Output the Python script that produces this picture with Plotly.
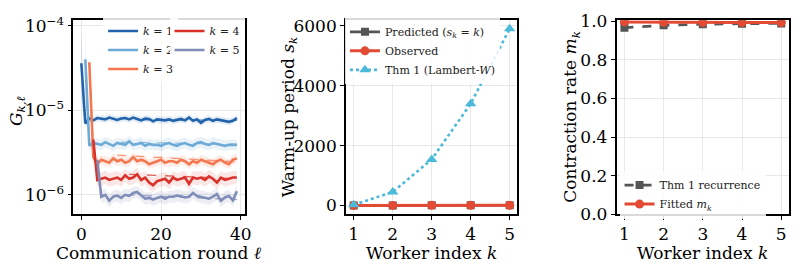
import plotly.graph_objects as go

# ---------------- data ----------------
rounds = list(range(40))
SCALE = 1e-6  # G values below are in units of 1e-6

G_k1 = [36, 7.0, 8.0, 7.6, 8.1, 8.0, 7.8, 8.2, 7.9, 7.7, 8.0, 8.1, 7.8, 8.2, 7.9, 7.6, 8.0, 7.9, 7.4, 7.8,
        7.7, 7.6, 7.8, 7.5, 7.7, 7.9, 7.6, 8.2, 7.5, 7.8, 7.1, 7.7, 7.9, 7.5, 7.8, 7.6, 7.4, 7.3, 7.5, 8.1]
G_k2 = [None, 40, 3.8, 4.1, 4.0, 3.9, 4.2, 4.0, 3.8, 4.1, 4.0, 3.9, 4.3, 3.9, 4.0, 4.1, 3.8, 4.0, 3.9, 3.9,
        3.8, 4.0, 4.1, 3.9, 3.8, 4.0, 4.1, 3.9, 3.8, 4.1, 4.2, 4.0, 3.9, 4.1, 4.0, 3.9, 3.8, 3.9, 3.9, 3.9]
G_k3 = [None, None, 37, 2.8, 2.3, 2.6, 2.5, 2.4, 2.7, 2.5, 2.6, 2.4, 2.5, 2.8, 2.5, 2.6, 2.5, 2.3, 2.4, 2.5,
        2.6, 2.4, 2.5, 2.5, 2.4, 2.6, 2.5, 2.3, 2.5, 2.4, 2.6, 2.5, 2.4, 2.3, 2.5, 2.6, 2.4, 2.3, 2.6, 2.7]
G_k4 = [None, None, None, 4.5, 1.5, 1.55, 1.6, 1.5, 1.55, 1.6, 1.5, 1.7, 1.55, 1.6, 1.75, 1.5, 1.6, 1.4, 1.3, 1.45,
        1.5, 1.55, 1.4, 1.6, 1.5, 1.55, 1.6, 1.35, 1.6, 1.55, 1.6, 1.5, 1.65, 1.55, 1.4, 1.6, 1.5, 1.55, 1.6, 1.6]
G_k5 = [None, None, None, None, 2.6, 0.95, 1.0, 0.85, 0.95, 0.98, 0.92, 1.0, 0.97, 1.05, 1.08, 0.98, 0.9, 0.92, 0.88, 0.92,
        0.95, 0.9, 0.95, 0.95, 0.98, 0.96, 0.93, 0.95, 1.05, 0.97, 0.95, 0.93, 0.9, 0.95, 1.02, 0.85, 0.93, 0.97, 0.86, 1.1]
band_spread = [0.10, 0.16, 0.14, 0.20, 0.18]   # relative spread of shaded band
first_spread = [1.5, 1.3, 0.1, 0.3, 0.2]        # spread at the first (warm-up) point
fit_x_start = [15, 10, 9, 12, 11]
fit_x_end = [39, 39, 39, 39, 39]
fit_y_start = [7.7, 4.2, 2.95, 1.75, 1.0]
fit_y_end = [7.6, 3.95, 2.45, 1.55, 0.88]
k_labels = ["<i>k</i> = 1", "<i>k</i> = 2", "<i>k</i> = 3", "<i>k</i> = 4", "<i>k</i> = 5"]

workers = [1, 2, 3, 4, 5]
s_predicted = [1, 2, 3, 4, 5]
s_observed = [1, 2, 3, 4, 5]
s_thm1 = [20, 450, 1540, 3400, 5906]

m_thm1 = [0.966, 0.978, 0.984, 0.987, 0.988]
m_fitted = [0.996, 0.994, 0.993, 0.993, 0.993]
m_fitted_err = [0.004, 0.004, 0.004, 0.004, 0.004]

# ---------------- style ----------------
FONT = "DejaVu Serif"
k_colors = ["#2264ab", "#6eaad6", "#f4774f", "#d8322a", "#7f8db8"]
k_fill = ["rgba(34,100,171,0.12)", "rgba(110,170,214,0.15)", "rgba(244,119,79,0.15)",
          "rgba(216,50,42,0.12)", "rgba(127,141,184,0.15)"]
GREY = "#555555"
RED = "#e24a33"
CYAN = "#4bb9d9"
W, H = 803, 267
TICK_SIZE = 17


def px_x(p):
    return p / W


def px_y(p):
    return (H - p) / H


fig = go.Figure()

series = [G_k1, G_k2, G_k3, G_k4, G_k5]
for i, ser in enumerate(series):
    xs = [x for x, v in zip(rounds, ser) if v is not None]
    vs = [v * SCALE for v in ser if v is not None]
    spreads = [first_spread[i]] + [band_spread[i]] * (len(vs) - 1)
    hi = [v * (1 + s) for v, s in zip(vs, spreads)]
    lo = [v / (1 + s) for v, s in zip(vs, spreads)]
    fig.add_trace(go.Scatter(x=xs, y=lo, mode="lines", line=dict(width=0), showlegend=False,
                             hoverinfo="skip", xaxis="x", yaxis="y"))
    fig.add_trace(go.Scatter(x=xs, y=hi, mode="lines", line=dict(width=0), fill="tonexty",
                             fillcolor=k_fill[i], showlegend=False, hoverinfo="skip",
                             xaxis="x", yaxis="y"))
for i in range(5):
    fig.add_trace(go.Scatter(x=[fit_x_start[i], fit_x_end[i]],
                             y=[fit_y_start[i] * SCALE, fit_y_end[i] * SCALE],
                             mode="lines", line=dict(color=k_colors[i], width=1.3, dash="dash"),
                             opacity=0.75, showlegend=False, xaxis="x", yaxis="y"))
for i, ser in enumerate(series):
    xs = [x for x, v in zip(rounds, ser) if v is not None]
    vs = [v * SCALE for v in ser if v is not None]
    fig.add_trace(go.Scatter(x=xs, y=vs, mode="lines", name=k_labels[i],
                             line=dict(color=k_colors[i], width=2.6), legendgroup="k%d" % i,
                             legend="legend" if i < 3 else "legend2",
                             xaxis="x", yaxis="y"))

# panel 2
fig.add_trace(go.Scatter(x=workers, y=s_predicted, mode="lines+markers", name="Predicted (<i>s<sub>k</sub></i> = <i>k</i>)",
                         line=dict(color=GREY, width=2.6), marker=dict(symbol="square", size=8),
                         legend="legend3", legendgroup="p1", xaxis="x2", yaxis="y2"))
fig.add_trace(go.Scatter(x=workers, y=s_observed, mode="lines+markers", name="Observed",
                         line=dict(color=RED, width=3), marker=dict(symbol="circle", size=9),
                         legend="legend3", legendgroup="p2", xaxis="x2", yaxis="y2"))
fig.add_trace(go.Scatter(x=workers, y=s_thm1, mode="lines+markers", name="Thm 1 (Lambert-<i>W</i>)",
                         line=dict(color=CYAN, width=2.6, dash="dot"), marker=dict(symbol="triangle-up", size=10),
                         legend="legend3", legendgroup="p3", xaxis="x2", yaxis="y2"))

# panel 3
fig.add_trace(go.Scatter(x=workers, y=m_thm1, mode="lines+markers", name="Thm 1 recurrence",
                         line=dict(color=GREY, width=2.6, dash="dash"), marker=dict(symbol="square", size=8),
                         legend="legend4", legendgroup="m1", xaxis="x3", yaxis="y3"))
fig.add_trace(go.Scatter(x=workers, y=m_fitted, mode="lines+markers", name="Fitted <i>m<sub>k</sub></i>",
                         line=dict(color=RED, width=3), marker=dict(symbol="circle", size=9),
                         error_y=dict(type="data", array=m_fitted_err, color=RED, thickness=1.5, width=4),
                         legend="legend4", legendgroup="m2", xaxis="x3", yaxis="y3"))

# ---------------- layout ----------------
ydom = [px_y(221), px_y(12)]


def axis(**kw):
    d = dict(showline=True, mirror=True, linecolor="black", linewidth=1.6,
             ticks="outside", ticklen=4, tickwidth=1.2, tickcolor="black",
             showgrid=True, gridcolor="#e8e8e8", gridwidth=0.8, zeroline=False,
             tickfont=dict(family=FONT, size=TICK_SIZE, color="black"))
    d.update(kw)
    return d


def legend_at(x, y, gap):
    return dict(x=x, y=y, font=dict(family=FONT, size=11, color="#222222"),
                bgcolor="rgba(255,255,255,0.85)", borderwidth=0, xanchor="left", yanchor="top",
                traceorder="normal", tracegroupgap=gap, itemwidth=30)


fig.update_layout(
    width=W, height=H, margin=dict(l=0, r=0, t=0, b=0),
    paper_bgcolor="white", plot_bgcolor="white",
    font=dict(family=FONT, color="black", size=TICK_SIZE),
    xaxis=axis(domain=[px_x(74), px_x(247)], range=[-2, 41], tickvals=[0, 20, 40], anchor="y"),
    yaxis=axis(domain=ydom, type="log", range=[-6.23, -3.934], anchor="x",
               tickvals=[1e-6, 1e-5, 1e-4], ticktext=["10<sup>−6</sup>", "10<sup>−5</sup>", "10<sup>−4</sup>"]),
    xaxis2=axis(domain=[px_x(349), px_x(522)], range=[0.8, 5.2], tickvals=workers, anchor="y2"),
    yaxis2=axis(domain=ydom, range=[-295, 6195], tickvals=[0, 2000, 4000, 6000], anchor="x2"),
    xaxis3=axis(domain=[px_x(622), px_x(796)], range=[0.8, 5.2], tickvals=workers, anchor="y3"),
    yaxis3=axis(domain=ydom, range=[0, 1.005], tickvals=[0, 0.2, 0.4, 0.6, 0.8, 1.0],
                ticktext=["0.0", "0.2", "0.4", "0.6", "0.8", "1.0"], anchor="x3"),
    legend=legend_at(px_x(104), px_y(8), 3),
    legend2=legend_at(px_x(171), px_y(8), 3),
    legend3=legend_at(px_x(348), px_y(9), 0),
    legend4=legend_at(px_x(625), px_y(174), 0),
    showlegend=True,
)

title_font = dict(family=FONT, size=17, color="black")
ann = [
    dict(text="<i>G<sub>k,ℓ</sub></i>", x=px_x(17), y=px_y(110), textangle=-90),
    dict(text="Warm-up period <i>s<sub>k</sub></i>", x=px_x(292), y=px_y(116), textangle=-90),
    dict(text="Contraction rate <i>m<sub>k</sub></i>", x=px_x(577), y=px_y(116), textangle=-90),
    dict(text="Communication round <i>ℓ</i>", x=px_x(160), y=px_y(263)),
    dict(text="Worker index <i>k</i>", x=px_x(435), y=px_y(263)),
    dict(text="Worker index <i>k</i>", x=px_x(709), y=px_y(263)),
]
for a in ann:
    fig.add_annotation(xref="paper", yref="paper", showarrow=False, xanchor="center", yanchor="middle",
                       font=title_font, **a)

fig.write_html("out.html")
